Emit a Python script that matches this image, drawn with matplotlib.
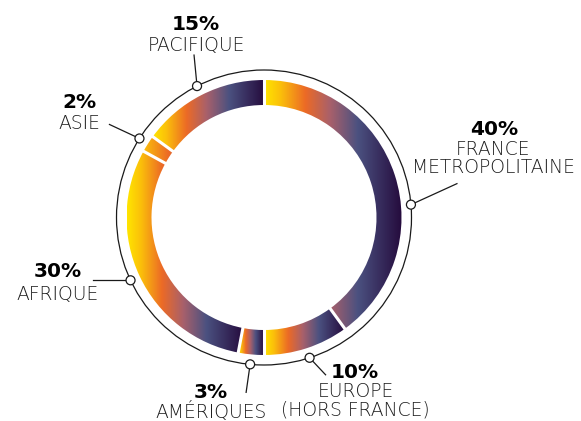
import numpy as np
import matplotlib
matplotlib.use("Agg")
import matplotlib.pyplot as plt
import matplotlib.patches as mpatches
from matplotlib.colors import LinearSegmentedColormap

# data
regions = ["FRANCE\nMETROPOLITAINE", "EUROPE\n(HORS FRANCE)", "AMÉRIQUES",
           "AFRIQUE", "ASIE", "PACIFIQUE"]
shares = [40, 10, 3, 30, 2, 15]
pct_labels = ["40%", "10%", "3%", "30%", "2%", "15%"]

W, H = 581, 421
cx, cy = 264, H - 217.5
r_out, r_in, r_ring = 137.5, 112.5, 147.5

grad = LinearSegmentedColormap.from_list("g", [
    (0.0, "#ffe500"), (0.12, "#fbbf0a"), (0.30, "#ec6a26"),
    (0.48, "#a8606b"), (0.68, "#4b5180"), (1.0, "#250b3d")])

# label layout: extra angle shift of the marker, leader end offset,
# percent text offset, name text offset (pixels, y down)
ang_shift = [13, 0, 0, 0, 0, 0]
leader = [(46, -21), (16, 17), (-4, 28), (-38, 0), (-30, -14), (-3, -31)]
pct_off = [(83, -75), (45, 15), (-39, 28), (-73, -9), (-60, -36), (-1, -62)]
name_off = [(82, -46), (46, 43), (-39, 48), (-73, 14), (-60, -15), (-1, -41)]

fig = plt.figure(figsize=(W / 100, H / 100), dpi=100)
ax = fig.add_axes([0, 0, 1, 1])
ax.set_aspect("equal")
ax.axis("off")

total = float(sum(shares))
bounds = np.concatenate([[0], np.cumsum(shares)]) / total * 360

for i, (a0, a1) in enumerate(zip(bounds[:-1], bounds[1:])):
    wedge = mpatches.Wedge((cx, cy), r_out, 90 - a1, 90 - a0,
                           width=r_out - r_in, fc="none", ec="none")
    ax.add_patch(wedge)
    t = np.radians(np.linspace(a0, a1, 100))
    xs = np.concatenate([cx + r_out * np.sin(t), cx + r_in * np.sin(t)])
    x0, x1 = xs.min(), xs.max()
    if regions[i] == "ASIE":
        x0, x1 = cx - r_out, cx
    img = grad(np.linspace(0, 1, 256))[None, :, :]
    im = ax.imshow(img, extent=(x0, x1, cy - r_out, cy + r_out),
                   aspect="auto", interpolation="bilinear", zorder=1)
    im.set_clip_path(wedge)

# white separators
for a in bounds[:-1]:
    t = np.radians(a)
    ax.plot([cx + (r_in - 2) * np.sin(t), cx + (r_out + 2) * np.sin(t)],
            [cy + (r_in - 2) * np.cos(t), cy + (r_out + 2) * np.cos(t)],
            color="white", lw=2.2, zorder=2, solid_capstyle="butt")

ax.add_patch(mpatches.Circle((cx, cy), r_ring, fill=False, ec="#1a1a1a",
                             lw=0.9, zorder=3))

mids = (bounds[:-1] + bounds[1:]) / 2
for i, m in enumerate(mids):
    t = np.radians(m + ang_shift[i])
    mx, my = cx + r_ring * np.sin(t), cy + r_ring * np.cos(t)
    lx, ly = leader[i]
    ax.plot([mx, mx + lx], [my, my - ly], color="#1a1a1a", lw=0.9, zorder=3)
    ax.add_patch(mpatches.Circle((mx, my), 4.5, fc="white", ec="#1a1a1a",
                                 lw=0.9, zorder=4))
    px, py = pct_off[i]
    ax.text(mx + px, my - py, pct_labels[i], ha="center", va="center",
            fontsize=14.5, family="DejaVu Sans", fontweight="heavy",
            color="black")
    nx, ny = name_off[i]
    ax.text(mx + nx, my - ny, regions[i], ha="center", va="center",
            fontsize=13.5, family="DejaVu Sans", fontweight=200,
            color="#1e1e1e", linespacing=0.97)

ax.set_xlim(0, W)
ax.set_ylim(0, H)
fig.savefig("out.png", dpi=100)
